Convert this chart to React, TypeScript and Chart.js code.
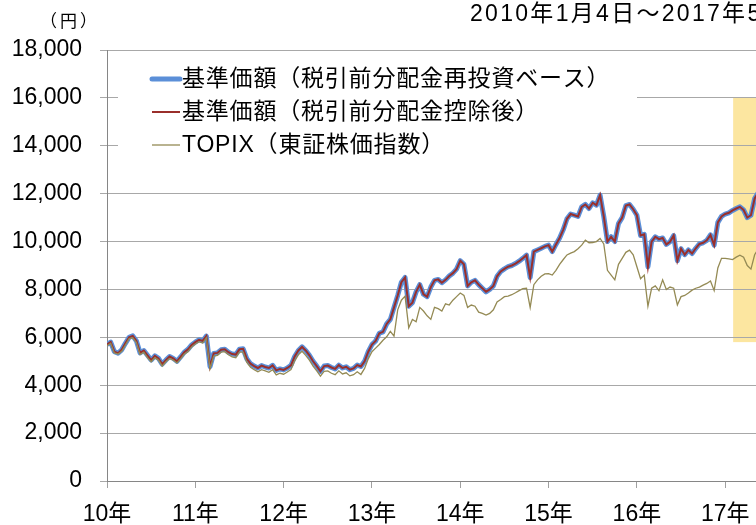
import React, { useEffect, useRef } from 'react';
import { Chart, registerables } from 'chart.js';

Chart.register(...registerables);

// ---- data ----
const startYear = 2010;
const pointsPerYear = 24; // semi-monthly readings from 2010-01 to 2017-05

const navReinvested = [
  5700, 5800, 5400, 5340, 5480, 5750, 6000, 6060, 5850, 5350, 5450, 5250, 5050, 5230, 5120, 4880, 5050, 5200, 5120, 5000, 5180, 5380, 5500, 5680,
  5800, 5900, 5850, 6050, 4780, 5330, 5350, 5480, 5500, 5380, 5300, 5280, 5500, 5520, 5100, 4900, 4800, 4720, 4820, 4760, 4720, 4830, 4620, 4680,
  4640, 4720, 4830, 5200, 5450, 5600, 5450, 5250, 5000, 4800, 4580, 4800, 4820, 4740, 4680, 4840, 4720, 4770, 4650, 4700, 4840, 4780, 5000, 5400,
  5700, 5850, 6170, 6230, 6560, 6750, 7250, 7750, 8300, 8500, 7300, 7450, 7900, 8200, 7800, 7700, 8100, 8380, 8420, 8280, 8400, 8560, 8680, 8850,
  9200, 9050, 8150, 8300, 8380, 8200, 8050, 7900, 8000, 8150, 8550, 8750, 8860, 8950, 9000, 9080, 9180, 9300, 9430, 8500, 9580, 9650, 9720, 9800,
  9850, 9580, 9880, 10150, 10500, 10950, 11150, 11100, 11050, 11450, 11550, 11380, 11620, 11520, 11940, 11050, 10000, 10200, 10000, 10750, 11000, 11500, 11550, 11350,
  11100, 10250, 10300, 8950, 10000, 10200, 10100, 10150, 9880, 9990, 10250, 9200, 9700, 9450, 9650, 9500, 9720, 9900, 9950, 10050, 10280, 9850, 10800, 11050,
  11150, 11200, 11300, 11380, 11450, 11320, 11000, 11100, 11800, 12050, 12100,
];

const navAfterDistribution = [
  5700, 5800, 5400, 5340, 5480, 5750, 6000, 6060, 5850, 5350, 5450, 5250, 5050, 5230, 5120, 4880, 5050, 5200, 5120, 5000, 5180, 5380, 5500, 5680,
  5800, 5900, 5850, 6050, 4780, 5330, 5350, 5480, 5500, 5380, 5300, 5280, 5500, 5520, 5100, 4900, 4800, 4720, 4820, 4760, 4720, 4830, 4620, 4680,
  4640, 4720, 4830, 5200, 5450, 5600, 5450, 5250, 5000, 4800, 4580, 4800, 4820, 4740, 4680, 4840, 4720, 4770, 4650, 4700, 4840, 4780, 5000, 5400,
  5700, 5850, 6170, 6230, 6560, 6750, 7250, 7750, 8300, 8500, 7300, 7450, 7900, 8200, 7800, 7700, 8100, 8380, 8420, 8280, 8400, 8560, 8680, 8850,
  9200, 9050, 8150, 8300, 8380, 8200, 8050, 7900, 8000, 8150, 8550, 8750, 8860, 8950, 9000, 9080, 9180, 9300, 9430, 8500, 9580, 9650, 9720, 9800,
  9850, 9580, 9880, 10150, 10500, 10950, 11150, 11100, 11050, 11450, 11550, 11380, 11620, 11520, 11940, 11050, 10000, 10200, 10000, 10750, 11000, 11500, 11550, 11350,
  11100, 10250, 10300, 8950, 10000, 10200, 10100, 10150, 9880, 9990, 10250, 9200, 9700, 9450, 9650, 9500, 9720, 9900, 9950, 10050, 10280, 9850, 10800, 11050,
  11150, 11200, 11300, 11380, 11450, 11320, 11000, 11100, 11800, 12050, 12100,
];

const topix = [
  5650, 5750, 5350, 5300, 5420, 5680, 5950, 5980, 5780, 5280, 5380, 5150, 4980, 5150, 5050, 4800, 4980, 5120, 5050, 4930, 5100, 5300, 5400, 5600,
  5720, 5820, 5760, 5980, 4700, 5220, 5250, 5380, 5400, 5270, 5180, 5150, 5380, 5380, 4950, 4750, 4650, 4560, 4650, 4600, 4540, 4650, 4430, 4500,
  4460, 4550, 4650, 5020, 5270, 5420, 5250, 5050, 4800, 4600, 4380, 4580, 4600, 4500, 4440, 4600, 4470, 4520, 4390, 4440, 4560, 4450, 4700, 5100,
  5400, 5550, 5700, 5880, 6020, 6250, 6050, 7150, 7550, 7720, 6400, 6750, 6650, 7250, 7100, 6900, 6750, 7250, 7200, 7100, 7400, 7350, 7550, 7700,
  7850, 7750, 7250, 7350, 7300, 7050, 7000, 6930, 7000, 7150, 7480, 7580, 7700, 7720, 7780, 7860, 7950, 8030, 8050, 7250, 8200, 8400, 8550, 8650,
  8660, 8600, 8800, 9050, 9250, 9440, 9520, 9580, 9700, 9850, 10060, 9950, 9960, 10000, 10130, 9900, 8800, 8600, 8400, 9050, 9300, 9550, 9640, 9450,
  8950, 8450, 8600, 7300, 8050, 8150, 7950, 8400, 8000, 8100, 8050, 7350, 7700, 7750, 7850, 7970, 8050, 8100, 8180, 8250, 8350, 7950, 8900, 9300,
  9300, 9280, 9250, 9350, 9430, 9350, 9000, 8850, 9450, 9700, 9750,
];

const seriesNames = [
  '基準価額（税引前分配金再投資ベース）',
  '基準価額（税引前分配金控除後）',
  'TOPIX（東証株価指数）',
];

const yearTicks = [2010, 2011, 2012, 2013, 2014, 2015, 2016, 2017];
const yearLabels = ['10年', '11年', '12年', '13年', '14年', '15年', '16年', '17年'];

const yMin = 0;
const yMax = 18000;
const yStep = 2000;

const titleText = '2010年1月4日～2017年5月31日';
const unitText = '（円）';

// highlighted period (years) and value band
const highlightFrom = 2017.09;
const highlightTo = 2017.6;
const highlightLow = 5800;
const highlightHigh = 16000;

const colors = ['#5B8FD8', '#9A2F2B', '#948A54'];
const lineWidths = [5, 2, 1.3];

const FONT = "'Liberation Sans', Arial, 'Noto Sans CJK JP', sans-serif";

function toPoints(values: number[]) {
  return values.map((v, i) => ({ x: startYear + i / pointsPerYear, y: v }));
}

const decorPlugin = {
  id: 'decor',
  beforeDraw(chart: any) {
    const { ctx, scales } = chart;
    const x = scales.x;
    const y = scales.y;
    ctx.save();
    ctx.fillStyle = '#FCE6A0';
    const x0 = x.getPixelForValue(highlightFrom);
    const x1 = x.getPixelForValue(highlightTo);
    const y0 = y.getPixelForValue(highlightHigh);
    const y1 = y.getPixelForValue(highlightLow);
    ctx.fillRect(x0, y0, x1 - x0, y1 - y0);
    ctx.restore();
  },
  beforeDatasetsDraw(chart: any) {
    const { ctx, chartArea } = chart;
    ctx.save();
    // legend box
    const bx = chartArea.left + 11;
    const by = chartArea.top + 8;
    ctx.fillStyle = '#FFFFFF';
    ctx.fillRect(bx, by, 519, 124);
    const rowY = [chartArea.top + 29, chartArea.top + 62, chartArea.top + 95];
    const sx0 = chartArea.left + 45;
    const sx1 = chartArea.left + 73;
    ctx.font = `23px ${FONT}`;
    ctx.textBaseline = 'middle';
    ctx.textAlign = 'left';
    seriesNames.forEach((name, i) => {
      ctx.strokeStyle = colors[i];
      ctx.lineWidth = lineWidths[i];
      ctx.lineCap = i === 0 ? 'round' : 'butt';
      ctx.beginPath();
      ctx.moveTo(sx0, rowY[i]);
      ctx.lineTo(sx1, rowY[i]);
      ctx.stroke();
      ctx.fillStyle = '#000000';
      (ctx as any).letterSpacing = '0.8px';
      ctx.fillText(name, sx1 + 2, rowY[i] + 1);
    });
    // title & unit
    ctx.font = `23px ${FONT}`;
    (ctx as any).letterSpacing = '2.3px';
    ctx.fillText(titleText, 470, 15);
    ctx.font = `17px ${FONT}`;
    (ctx as any).letterSpacing = '3px';
    ctx.textAlign = 'left';
    ctx.fillText(unitText, 40, 22);
    ctx.restore();
  },
};

export default function App() {
  const canvasRef = useRef<HTMLCanvasElement | null>(null);

  useEffect(() => {
    if (!canvasRef.current) return;
    Chart.defaults.font.family = FONT;
    const xMax = startYear + (navReinvested.length - 1) / pointsPerYear;
    const chart = new Chart(canvasRef.current, {
      type: 'line',
      data: {
        datasets: [
          {
            label: seriesNames[0],
            data: toPoints(navReinvested),
            borderColor: colors[0],
            borderWidth: lineWidths[0],
            pointRadius: 0,
            borderJoinStyle: 'round',
            order: 3,
          },
          {
            label: seriesNames[1],
            data: toPoints(navAfterDistribution),
            borderColor: colors[1],
            borderWidth: lineWidths[1],
            pointRadius: 0,
            order: 2,
          },
          {
            label: seriesNames[2],
            data: toPoints(topix),
            borderColor: colors[2],
            borderWidth: lineWidths[2],
            pointRadius: 0,
            order: 1,
          },
        ],
      },
      options: {
        animation: false,
        responsive: false,
        maintainAspectRatio: false,
        layout: { padding: { top: 50, right: 13, left: 0, bottom: 0 } },
        plugins: {
          legend: { display: false },
          tooltip: { enabled: false },
          title: { display: false },
        },
        scales: {
          x: {
            type: 'linear',
            min: startYear,
            max: xMax,
            afterBuildTicks: (scale: any) => {
              scale.ticks = yearTicks.map((v) => ({ value: v }));
            },
            afterFit: (scale: any) => {
              scale.height = 44;
            },
            ticks: {
              autoSkip: false,
              maxRotation: 0,
              padding: 13,
              color: '#000000',
              font: { size: 23, family: FONT },
              callback: (value: any) => {
                const idx = yearTicks.indexOf(Number(value));
                return idx >= 0 ? yearLabels[idx] : '';
              },
            },
            grid: {
              drawOnChartArea: false,
              drawTicks: true,
              tickLength: 7,
              color: '#A0A0A0',
            },
            border: { color: '#868686', width: 1 },
          },
          y: {
            min: yMin,
            max: yMax,
            afterFit: (scale: any) => {
              scale.width = 107;
            },
            ticks: {
              stepSize: yStep,
              padding: 18,
              color: '#000000',
              font: { size: 23, family: FONT },
              callback: (value: any) => Number(value).toLocaleString('en-US'),
            },
            grid: {
              color: '#A8A8A8',
              tickLength: 7,
            },
            border: { color: '#868686', width: 1 },
          },
        },
      },
      plugins: [decorPlugin],
    });
    return () => chart.destroy();
  }, []);

  return (
    <div
      style={{
        position: 'fixed',
        left: 0,
        top: 0,
        width: 756,
        height: 525,
        overflow: 'hidden',
        background: '#FFFFFF',
      }}
    >
      <canvas ref={canvasRef} width={775} height={525} style={{ display: 'block' }} />
    </div>
  );
}
